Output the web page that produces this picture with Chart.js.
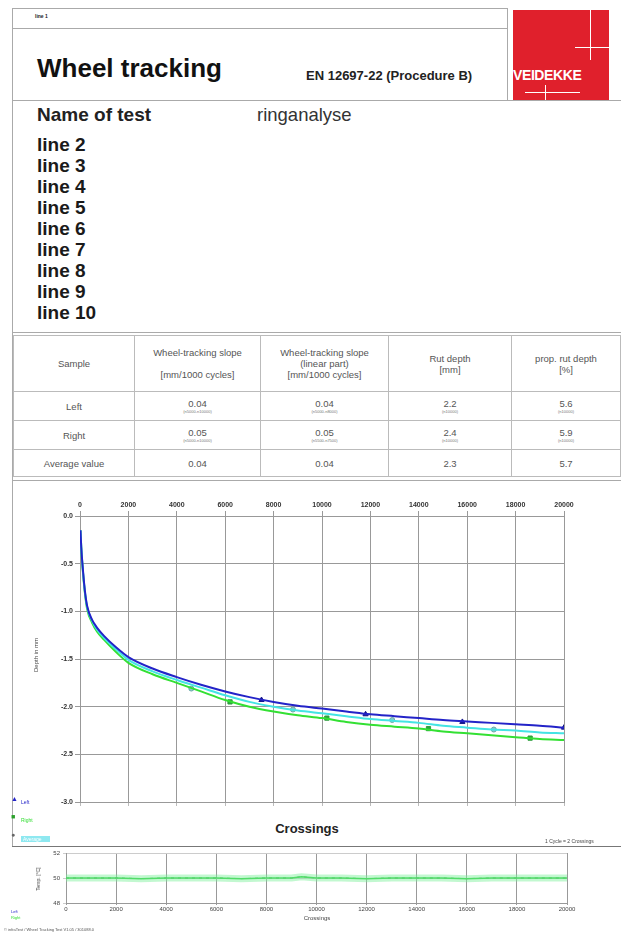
<!DOCTYPE html>
<html>
<head>
<meta charset="utf-8">
<script src="https://cdn.jsdelivr.net/npm/chart.js@4.4.0/dist/chart.umd.min.js"></script>
<style>
  body { margin: 0; background: #fff; }
  #page { position: relative; width: 621px; height: 937px; overflow: hidden; font-family: "Liberation Sans", Arial, sans-serif; color: #222; }
  .abs { position: absolute; white-space: nowrap; }
  .hl { position: absolute; height: 0; border-top: 1.5px solid #aaa; }
  .vl { position: absolute; width: 0; border-left: 1.5px solid #aaa; }
  .line { font-weight: bold; font-size: 19px; left: 37px; color: #1a1a1a; }
  table { position: absolute; left: 13px; top: 335px; width: 608px; border-collapse: collapse; font-size: 9.5px; color: #555; }
  td { border: 1px solid #bbb; text-align: center; padding: 0; }
  td small { display: block; font-size: 4px; line-height: 5px; color: #777; }
  #logo { position: absolute; left: 513px; top: 10px; width: 96px; height: 90px; background: #e0202c; }
  .wl { position: absolute; background: #fff; }
</style>
</head>
<body>
<div id="page">
  <!-- header frame -->
  <div class="vl" style="left:12px; top:8px; height:838px;"></div>
  <div class="hl" style="left:12px; top:8px; width:495px;"></div>
  <div class="hl" style="left:12px; top:28px; width:495px;"></div>
  <div class="vl" style="left:507px; top:8px; height:92px;"></div>
  <div class="hl" style="left:12px; top:100px; width:609px;"></div>
  <div class="abs" style="left:35px; top:13px; font-size:5px; font-weight:bold;">line 1</div>
  <div class="abs" style="left:37px; top:53px; font-size:26px; font-weight:bold; color:#111;">Wheel tracking</div>
  <div class="abs" style="left:306px; top:68px; font-size:13px; font-weight:bold;">EN 12697-22 (Procedure B)</div>
  <div id="logo">
    <div class="wl" style="left:77px; top:0; width:1px; height:50px;"></div>
    <div class="wl" style="left:62px; top:37px; width:34px; height:1px;"></div>
    <div class="wl" style="left:32px; top:75px; width:1px; height:15px;"></div>
    <div class="wl" style="left:12px; top:82px; width:55px; height:1px;"></div>
  </div>
  <div class="abs" style="left:513px; top:67px; font-size:14px; font-weight:bold; color:#fff; letter-spacing:-0.4px;">VEIDEKKE</div>

  <div class="abs" style="left:37px; top:104px; font-size:19px; font-weight:bold;">Name of test</div>
  <div class="abs" style="left:257px; top:104px; font-size:18.5px; color:#333;">ringanalyse</div>
  <div class="abs line" style="top:134px;">line 2</div>
  <div class="abs line" style="top:155px;">line 3</div>
  <div class="abs line" style="top:176px;">line 4</div>
  <div class="abs line" style="top:197px;">line 5</div>
  <div class="abs line" style="top:218px;">line 6</div>
  <div class="abs line" style="top:239px;">line 7</div>
  <div class="abs line" style="top:260px;">line 8</div>
  <div class="abs line" style="top:281px;">line 9</div>
  <div class="abs line" style="top:302px;">line 10</div>
  <div class="hl" style="left:12px; top:332px; width:609px;"></div>

  <table>
    <tr style="height:56px;">
      <td style="width:120px;">Sample</td>
      <td style="width:125px;">Wheel-tracking slope<br><br>[mm/1000 cycles]</td>
      <td style="width:127px;">Wheel-tracking slope<br>(linear part)<br>[mm/1000 cycles]</td>
      <td style="width:122px;">Rut depth<br>[mm]</td>
      <td>prop. rut depth<br>[%]</td>
    </tr>
    <tr style="height:29px;">
      <td>Left</td>
      <td>0.04<small>(n5000-n10000)</small></td>
      <td>0.04<small>(n5000-n8000)</small></td>
      <td>2.2<small>(n10000)</small></td>
      <td>5.6<small>(n10000)</small></td>
    </tr>
    <tr style="height:29px;">
      <td>Right</td>
      <td>0.05<small>(n5000-n10000)</small></td>
      <td>0.05<small>(n5500-n7500)</small></td>
      <td>2.4<small>(n10000)</small></td>
      <td>5.9<small>(n10000)</small></td>
    </tr>
    <tr style="height:27px;">
      <td>Average value</td>
      <td>0.04</td>
      <td>0.04</td>
      <td>2.3</td>
      <td>5.7</td>
    </tr>
  </table>
  <div class="hl" style="left:12px; top:480px; width:609px;"></div>

  <!-- main chart -->
  <canvas id="depth" class="abs" style="left:0; top:490px;"></canvas>
  <div class="abs" style="left:36px; top:655px; font-size:6px; color:#444; transform:translate(-50%,-50%) rotate(-90deg);">Depth in mm</div>

  <div class="abs" style="left:11px; top:795px; font-size:7px; color:#2323c8;">&#9650;</div>
  <div class="abs" style="left:21px; top:799px; font-size:5px; color:#2323c8;">Left</div>
  <div class="abs" style="left:11px; top:813px; font-size:7px; color:#2aa02a;">&#9632;</div>
  <div class="abs" style="left:21px; top:817px; font-size:5px; color:#33dd33;">Right</div>
  <div class="abs" style="left:11px; top:831px; font-size:7px; color:#666;">&#9679;</div>
  <div class="abs" style="left:21px; top:836px; font-size:5px; color:#fff; background:#8ee8f0; padding:0 8px 0 2px;">Average</div>

  <div class="abs" style="left:307px; top:821px; font-size:13px; font-weight:bold; transform:translateX(-50%);">Crossings</div>
  <div class="hl" style="left:12px; top:846px; width:609px; border-top-color:#777;"></div>
  <div class="abs" style="left:545px; top:838px; font-size:5px; color:#444;">1 Cycle = 2 Crossings</div>

  <!-- temperature chart -->
  <canvas id="temp" class="abs" style="left:0; top:846px;"></canvas>
  <div class="abs" style="left:38px; top:879px; font-size:5px; color:#444; transform:translate(-50%,-50%) rotate(-90deg);">Temp. [°C]</div>
  <div class="abs" style="left:317px; top:915px; font-size:6px; color:#444; transform:translateX(-50%);">Crossings</div>
  <div class="abs" style="left:11px; top:909px; font-size:4px; color:#2323c8;">Left</div>
  <div class="abs" style="left:11px; top:915px; font-size:4px; color:#33dd33;">Right</div>
  <div class="abs" style="left:4px; top:927px; font-size:4px; color:#555;">© infraTest / Wheel Tracking Test V1.05 / 301088.0</div>
</div>

<script>
// cycles at which the curves were read
const cycles = [20, 50, 100, 200, 300, 500, 700, 1000, 1500, 2000, 3000, 4000, 5000, 6000, 7000, 8000, 9000, 10000,
  11000, 12000, 13000, 14000, 15000, 16000, 17000, 18000, 19000, 20000];
const leftDepth = [-0.15, -0.32, -0.50, -0.78, -0.95, -1.09, -1.17, -1.26, -1.38, -1.48, -1.60, -1.69, -1.77, -1.84,
  -1.90, -1.95, -1.99, -2.02, -2.05, -2.08, -2.10, -2.12, -2.14, -2.155, -2.17, -2.185, -2.20, -2.22];
const rightDepth = [-0.15, -0.33, -0.52, -0.80, -0.98, -1.12, -1.21, -1.30, -1.43, -1.54, -1.66, -1.75, -1.84, -1.93,
  -2.00, -2.05, -2.09, -2.12, -2.16, -2.19, -2.21, -2.23, -2.26, -2.28, -2.30, -2.32, -2.34, -2.35];
const avgDepth = [-0.15, -0.32, -0.51, -0.79, -0.96, -1.10, -1.19, -1.28, -1.40, -1.51, -1.63, -1.72, -1.80, -1.88,
  -1.95, -2.00, -2.04, -2.07, -2.10, -2.13, -2.15, -2.17, -2.20, -2.22, -2.24, -2.25, -2.27, -2.28];

// marker positions
const leftMarkX = [7500, 11800, 15800, 20000];
const leftMarkY = [-1.93, -2.08, -2.16, -2.22];
const rightMarkX = [6200, 10200, 14400, 18600];
const rightMarkY = [-1.95, -2.12, -2.23, -2.33];
const avgMarkX = [4600, 8800, 12900, 17100];
const avgMarkY = [-1.81, -2.03, -2.14, -2.24];

// temperature over crossings
const tempX = [0, 1000, 2000, 3000, 4000, 5000, 6000, 7000, 8000, 9000, 9400, 10000, 11000, 12000,
  13000, 14000, 15000, 16000, 17000, 18000, 19000, 20000];
const tempY = [50.0, 50.0, 50.0, 49.95, 50.0, 50.0, 50.0, 49.95, 50.0, 50.0, 50.1, 50.0, 50.0, 49.95,
  50.0, 50.0, 50.0, 49.95, 50.0, 50.0, 50.0, 50.0];

const xTicks = [0, 2000, 4000, 6000, 8000, 10000, 12000, 14000, 16000, 18000, 20000];

function pts(xs, ys) { return xs.map((x, i) => ({ x: x, y: ys[i] })); }

const tickFont = { family: 'Liberation Sans', size: 7, weight: 'bold' };

function setSize(id, w, h) {
  const c = document.getElementById(id);
  c.width = w; c.height = h;
  c.style.width = w + 'px'; c.style.height = h + 'px';
  return c;
}

const curve = { pointRadius: 0, cubicInterpolationMode: 'monotone' };

new Chart(setSize('depth', 621, 320), {
  type: 'line',
  data: {
    datasets: [
      { ...curve, data: pts(cycles, leftDepth), borderColor: '#2323c8', borderWidth: 2 },
      { ...curve, data: pts(cycles, avgDepth), borderColor: '#44e4e4', borderWidth: 2 },
      { ...curve, data: pts(cycles, rightDepth), borderColor: '#33e033', borderWidth: 2 },
      { data: pts(leftMarkX, leftMarkY), showLine: false, pointStyle: 'triangle', pointRadius: 3,
        backgroundColor: '#14148a', borderColor: '#14148a' },
      { data: pts(rightMarkX, rightMarkY), showLine: false, pointStyle: 'rect', pointRadius: 3,
        backgroundColor: '#2f9f3f', borderColor: '#2f9f3f' },
      { data: pts(avgMarkX, avgMarkY), showLine: false, pointStyle: 'circle', pointRadius: 2.5,
        backgroundColor: '#8fc8c8', borderColor: '#6aa8a8' }
    ]
  },
  options: {
    responsive: false,
    animation: false,
    layout: { padding: { left: 0, right: 57, top: 0, bottom: 0 } },
    plugins: { legend: { display: false }, tooltip: { enabled: false } },
    scales: {
      x: {
        type: 'linear', position: 'top', min: 0, max: 20000,
        afterBuildTicks: s => { s.ticks = xTicks.map(v => ({ value: v })); },
        afterFit: s => { s.height = 26; },
        grid: { color: '#999', tickLength: 5 },
        border: { color: '#999' },
        ticks: { font: tickFont, color: '#333', padding: 2, maxRotation: 0, callback: v => String(v) }
      },
      x2: {
        type: 'linear', position: 'bottom', min: 0, max: 20000,
        afterBuildTicks: s => { s.ticks = xTicks.map(v => ({ value: v })); },
        afterFit: s => { s.height = 8; },
        grid: { drawOnChartArea: false, color: '#bbb', tickLength: 4 },
        border: { color: '#999' },
        ticks: { display: false }
      },
      y: {
        min: -3, max: 0,
        ticks: { stepSize: 0.5, font: tickFont, color: '#333', padding: 2, callback: v => v.toFixed(1) },
        afterFit: s => { s.width = 80; },
        grid: { color: '#999', tickLength: 5 },
        border: { color: '#999' }
      }
    }
  }
});

new Chart(setSize('temp', 621, 70), {
  type: 'line',
  data: {
    datasets: [
      { data: pts(tempX, tempY), borderColor: 'rgba(120,240,150,0.45)', borderWidth: 7, pointRadius: 0 },
      { data: pts(tempX, tempY), borderColor: '#33cc44', borderWidth: 1.5, pointRadius: 0 },
      { data: pts(tempX, tempY), borderColor: '#2a7a3a', borderWidth: 1, borderDash: [3, 4], pointRadius: 0 }
    ]
  },
  options: {
    responsive: false,
    animation: false,
    layout: { padding: { left: 0, right: 54, top: 7, bottom: 0 } },
    plugins: { legend: { display: false }, tooltip: { enabled: false } },
    scales: {
      x: {
        type: 'linear', position: 'bottom', min: 0, max: 20000,
        afterBuildTicks: s => { s.ticks = xTicks.map(v => ({ value: v })); },
        afterFit: s => { s.height = 13; },
        grid: { color: '#999', tickLength: 2 },
        border: { color: '#999' },
        ticks: { font: { family: 'Liberation Sans', size: 6 }, color: '#444', padding: 1, maxRotation: 0,
          callback: v => String(v) }
      },
      y: {
        min: 48, max: 52,
        ticks: { stepSize: 2, font: { family: 'Liberation Sans', size: 6 }, color: '#444', padding: 3 },
        afterFit: s => { s.width = 66; },
        grid: { color: '#ccc', tickLength: 3 },
        border: { color: '#999' }
      }
    }
  }
});
</script>
</body>
</html>
